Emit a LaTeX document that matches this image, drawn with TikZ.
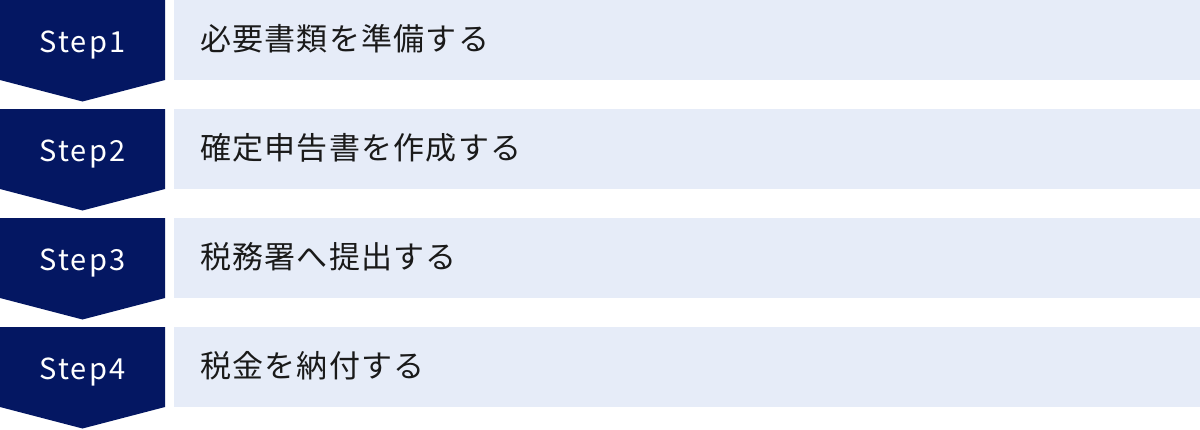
\documentclass[tikz,border=0pt]{standalone}
\usepackage{fontspec}
\setmainfont{Noto Sans CJK JP}
\definecolor{stepnavy}{HTML}{041762}
\definecolor{steplight}{HTML}{E6ECF8}
\definecolor{stepink}{HTML}{1A1A1A}
\tikzset{
  steplabel/.style={text=white, font=\fontsize{29}{34}\selectfont\addfontfeatures{LetterSpace=7}, inner sep=0pt, anchor=base},
  steptext/.style={text=stepink, font=\fontsize{31}{36}\selectfont\addfontfeatures{LetterSpace=4}, inner sep=0pt, anchor=base west}
}

\begin{document}
\begin{tikzpicture}[x=1pt,y=-1pt]
  \useasboundingbox (0,0) rectangle (1200,429);
  \foreach \i/\txt in {1/必要書類を準備する,2/確定申告書を作成する,3/税務署へ提出する,4/税金を納付する} {
    \pgfmathsetmacro\top{(\i-1)*109}
    \fill [stepnavy] (0,\top) -- (165,\top) -- (165,\top+80)
      -- (82.5,\top+101.5) -- (0,\top+80) -- cycle;
    \fill [steplight] (174,\top) rectangle (1200,\top+80);
    \node [steplabel] (s\i) at (82.5,\top+52.5) {Step\i};
    \node [steptext] (t\i) at (200,\top+50.5) {\txt};
  }
\end{tikzpicture}
\end{document}
